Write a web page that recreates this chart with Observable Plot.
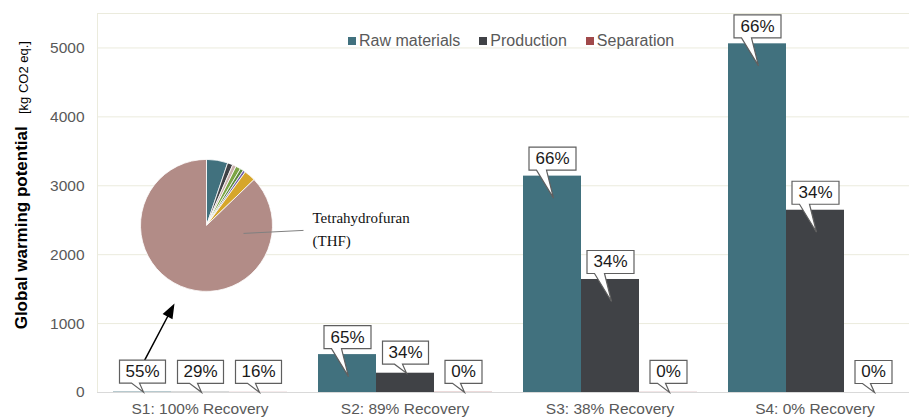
<!DOCTYPE html>
<html>
<head>
<meta charset="utf-8">
<script src="https://cdn.jsdelivr.net/npm/d3@7"></script>
<script src="https://cdn.jsdelivr.net/npm/@observablehq/plot@0.6"></script>
<style>
  html, body { margin: 0; padding: 0; background: white; }
  #wrap { position: relative; width: 909px; height: 420px; overflow: hidden; font-family: 'Liberation Sans', Arial, sans-serif; }
  #legend { position: absolute; left: 348px; top: 32px; display: flex; gap: 19px; font-size: 16px; line-height: 18px; color: #595959; }
  #legend .item { display: flex; align-items: center; }
  #legend .sw { width: 8px; height: 8px; margin-right: 3px; }
</style>
</head>
<body>
<div id="wrap"><div id="legend"></div></div>
<script>
// ---- data ----
const categories = ["S1: 100% Recovery", "S2: 89% Recovery", "S3: 38% Recovery", "S4: 0% Recovery"];
const series = ["Raw materials", "Production", "Separation"];
const rawMaterials = [5.5, 550, 3140, 5060];
const production = [2.9, 280, 1640, 2645];
const separation = [1.6, 3, 2, 0];
const rawPct = ["55%", "65%", "66%", "66%"];
const prodPct = ["29%", "34%", "34%", "34%"];
const sepPct = ["16%", "0%", "0%", "0%"];
const yTicks = [0, 1000, 2000, 3000, 4000, 5000];
const pieLabels = ["Component A", "Component B", "Component C", "Component D", "Component E", "Component F", "Component G", "Tetrahydrofuran (THF)"];
const pieShares = [5.2, 1.3, 0.9, 1.2, 0.8, 0.6, 2.8, 87.2];

// ---- styles ----
const seriesColors = ["#41717E", "#404246", "#A0494A"];
const pieColors = ["#41717E", "#404246", "#C9AFAB", "#7BA444", "#5B8A3A", "#6E5FA8", "#D6A62B", "#B28C87"];

const values = [rawMaterials, production, separation];
const pcts = [rawPct, prodPct, sepPct];
const rows = categories.flatMap((c, i) => series.map((s, j) => ({cat: c, series: s, value: values[j][i], pct: pcts[j][i]})));

// callout shapes (speech bubbles)
function callout(w, h, gap, tip, b1, b2) {
  return {draw(ctx) {
    const L = -w / 2, R = w / 2, B = -gap, T = -gap - h;
    ctx.moveTo(L, T); ctx.lineTo(R, T); ctx.lineTo(R, B); ctx.lineTo(b2, B);
    ctx.lineTo(1, tip); ctx.lineTo(b1, B); ctx.lineTo(L, B); ctx.closePath();
  }};
}
const H = 23;
const kinds = [
  {test: d => d.value > 400 && d.pct.length > 2, sym: callout(47, H, 6, 22, -16, -6), dy: -(6 + H / 2)},
  {test: d => d.value <= 400 && d.pct.length > 2, sym: callout(46, H, 9, 0, -11, -3), dy: -(9 + H / 2)},
  {test: d => d.value <= 400 && d.pct.length <= 2, sym: callout(37, H, 9, 0, -11, -3), dy: -(9 + H / 2)}
];

// pie anchored in S1 facet
const pieAnchor = [{fx: categories[0], x: series[1], y: 2425}];
const R = 66;
const arcs = d3.pie().sort(null).value(d => d)(pieShares);
const arcGen = d3.arc().innerRadius(0).outerRadius(R);
const pieMarks = arcs.map((a, i) => Plot.dot(pieAnchor, {
  fx: "fx", x: "x", y: "y", dx: 6,
  symbol: {draw(ctx) { arcGen.context(ctx)(a); arcGen.context(null); }},
  fill: pieColors[i], stroke: "white", strokeWidth: 0.8
}));
const leader = {draw(ctx) { ctx.moveTo(37, 8); ctx.lineTo(97, 5); }};
const arrowSym = {draw(ctx) {
  const x0 = -63, y0 = 137, x1 = -33, y1 = 80;
  const dx = x1 - x0, dy = y1 - y0, L = Math.hypot(dx, dy), ux = dx / L, uy = dy / L;
  const hl = 12, hw = 4.5;
  const bx = x1 - ux * hl, by = y1 - uy * hl;
  ctx.moveTo(x0, y0); ctx.lineTo(bx, by);
  ctx.moveTo(x1, y1); ctx.lineTo(bx - uy * hw, by + ux * hw); ctx.lineTo(bx + uy * hw, by - ux * hw); ctx.closePath();
}};

const yLab = [{fx: categories[0]}];

const plot = Plot.plot({
  width: 909, height: 420,
  marginLeft: 95, marginRight: -9, marginTop: 13, marginBottom: 28,
  style: {fontFamily: "'Liberation Sans', Arial, sans-serif", background: "white"},
  fx: {domain: categories, padding: 0, axis: null, label: null},
  x: {domain: series, paddingInner: 0, paddingOuter: 0.26, axis: null},
  y: {domain: [0, 5500], axis: null},
  color: {domain: series, range: seriesColors},
  marks: [
    Plot.gridY([...yTicks.slice(1), 5500], {stroke: "#EBEBDD", strokeOpacity: 1}),
    Plot.frame({anchor: "left", facetAnchor: "left", stroke: "#EBEBDD"}),
    Plot.barY(rows, {fx: "cat", x: "series", y: "value", fill: "series"}),
    Plot.ruleY([0], {stroke: "#D9D9D9"}),
    Plot.axisY({ticks: yTicks, tickSize: 0, tickPadding: 13, fontSize: 15.5, fill: "#595959", tickFormat: d => String(d), label: null}),
    Plot.axisFx({anchor: "bottom", tickSize: 0, tickPadding: 10, fontSize: 15.5, fill: "#595959", label: null}),
    Plot.text(yLab, {fx: "fx", y: () => 2390, text: () => "Global warming potential", frameAnchor: "left", textAnchor: "middle", rotate: -90, dx: -76, fontSize: 17, fontWeight: "bold", fill: "#000"}),
    Plot.text(yLab, {fx: "fx", y: () => 4570, text: () => "[kg CO2 eq.]", frameAnchor: "left", textAnchor: "middle", rotate: -90, dx: -74, fontSize: 13, fill: "#000"}),
    ...pieMarks,
    Plot.dot(pieAnchor, {fx: "fx", x: "x", y: "y", dx: 6, symbol: leader, fill: "none", stroke: "#808080", strokeWidth: 1}),
    Plot.text(pieAnchor, {fx: "fx", x: "x", y: "y", dx: 112, dy: 2, text: () => "Tetrahydrofuran\n(THF)", textAnchor: "start", lineHeight: 1.5, fontSize: 15, fontFamily: "'Liberation Serif', 'Times New Roman', serif", fill: "#111"}),
    Plot.dot(pieAnchor, {fx: "fx", x: "x", y: "y", dx: 6, symbol: arrowSym, fill: "#000", stroke: "#000", strokeWidth: 1.5}),
    ...kinds.flatMap(k => {
      const sub = rows.filter(k.test);
      return [
        Plot.dot(sub, {fx: "cat", x: "series", y: "value", symbol: k.sym, fill: "white", stroke: "#5f5f5f", strokeWidth: 1.2}),
        Plot.text(sub, {fx: "cat", x: "series", y: "value", text: "pct", dy: k.dy, fontSize: 17, fill: "#1a1a1a"})
      ];
    })
  ]
});
document.getElementById("wrap").prepend(plot);

const legend = d3.select("#legend");
series.forEach((s, i) => {
  const it = legend.append("div").attr("class", "item");
  it.append("div").attr("class", "sw").style("background", seriesColors[i]);
  it.append("span").text(s);
});
</script>
</body>
</html>
